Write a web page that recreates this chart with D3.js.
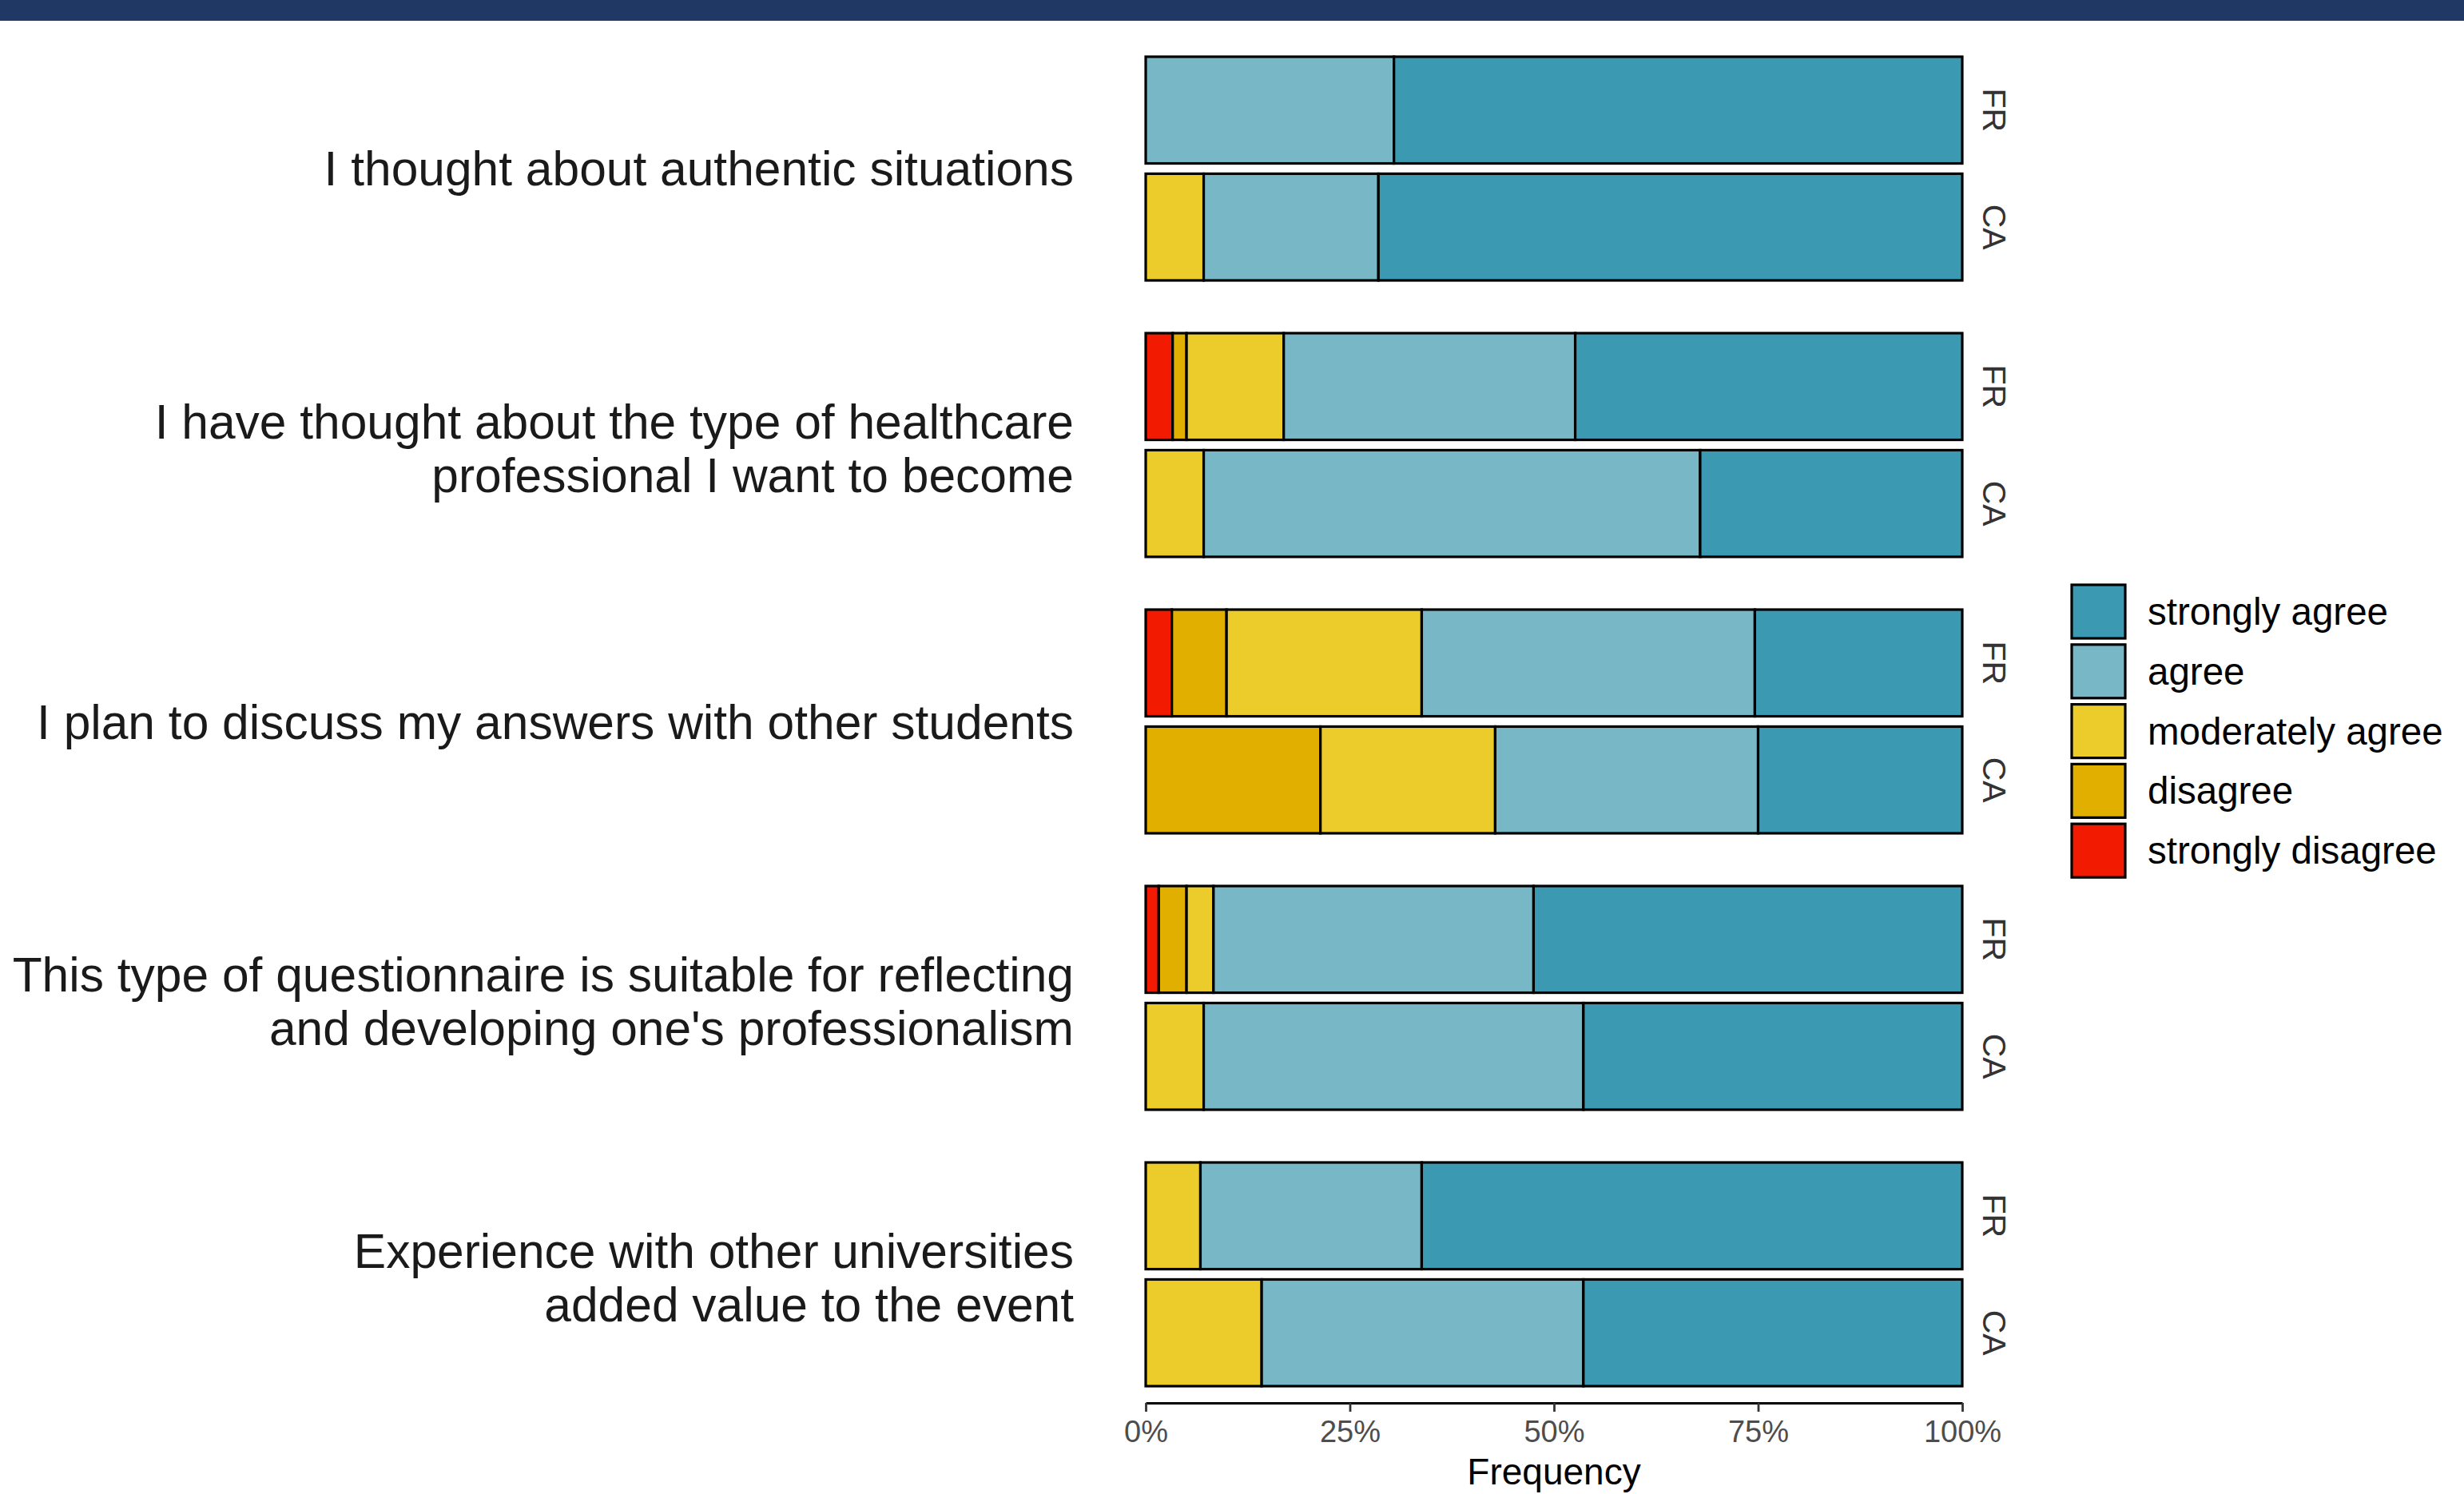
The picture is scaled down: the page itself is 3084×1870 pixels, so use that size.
<!DOCTYPE html>
<html>
<head>
<meta charset="utf-8">
<script src="https://cdn.jsdelivr.net/npm/d3@7"></script>
<style>
  html, body { margin: 0; padding: 0; background: #ffffff; }
  svg { display: block; }
  text { font-family: "Liberation Sans", Arial, Helvetica, sans-serif; }
</style>
</head>
<body>
<svg id="chart" width="3084" height="1870"></svg>
<script>
// ---------------- data ----------------
const categories = [
  "I thought about authentic situations",
  "I have thought about the type of healthcare\nprofessional I want to become",
  "I plan to discuss my answers with other students",
  "This type of questionnaire is suitable for reflecting\nand developing one's professionalism",
  "Experience with other universities\nadded value to the event"
];
const countries = ["FR", "CA"];
const levels = ["strongly disagree", "disagree", "moderately agree", "agree", "strongly agree"];
const levelColors = ["#F21A00", "#E1AF00", "#EBCC2A", "#78B7C5", "#3B9AB2"];
const legendOrder = ["strongly agree", "agree", "moderately agree", "disagree", "strongly disagree"];
const tickValues = [0, 0.25, 0.5, 0.75, 1];
const xTitle = "Frequency";

// percentages, row order: Q1 FR, Q1 CA, Q2 FR, Q2 CA, ... Q5 FR, Q5 CA
const stronglyDisagree = [0, 0,    3.3, 0,    3.2, 0,    1.6, 0,    0, 0];
const disagree         = [0, 0,    1.7, 0,    6.7, 21.4, 3.4, 0,    0, 0];
const moderatelyAgree  = [0, 7.1,  11.9, 7.1, 23.9, 21.4, 3.3, 7.1, 6.7, 14.2];
const agree            = [30.4, 21.4, 35.7, 60.8, 40.8, 32.2, 39.2, 46.5, 27.1, 39.4];
const stronglyAgree    = [69.6, 71.5, 47.4, 32.1, 25.4, 25.0, 52.5, 46.4, 66.2, 46.4];

// ---------------- build table ----------------
const levelSeries = [stronglyDisagree, disagree, moderatelyAgree, agree, stronglyAgree];
const rows = [];
categories.forEach((q, qi) => {
  countries.forEach((c, ci) => {
    const idx = qi * countries.length + ci;
    const r = { question: q, country: c };
    levels.forEach((l, li) => { r[l] = levelSeries[li][idx] / 100; });
    rows.push(r);
  });
});
const stacked = d3.stack().keys(levels)(rows);

// ---------------- layout ----------------
const svg = d3.select("#chart");
const W = 3084, H = 1870;
svg.append("rect").attr("x", 0).attr("y", 0).attr("width", W).attr("height", H).attr("fill", "#ffffff");
// top banner
svg.append("rect").attr("x", 0).attr("y", 0).attr("width", W).attr("height", 26).attr("fill", "#1F3864");

const x = d3.scaleLinear().domain([0, 1]).range([1434, 2456]);
const yOuter = d3.scaleBand().domain(categories).range([71, 1735]).paddingInner(0.1908).paddingOuter(0);
const yInner = d3.scaleBand().domain(countries).range([0, yOuter.bandwidth()]).paddingInner(0.088);
const color = d3.scaleOrdinal().domain(levels).range(levelColors);

const barStroke = 3.2;

// bars
const layer = svg.append("g");
stacked.forEach(series => {
  layer.selectAll(null)
    .data(series.filter(d => d[1] - d[0] > 0))
    .enter()
    .append("rect")
    .attr("x", d => x(d[0]))
    .attr("width", d => x(d[1]) - x(d[0]))
    .attr("y", d => yOuter(d.data.question) + yInner(d.data.country))
    .attr("height", yInner.bandwidth())
    .attr("fill", color(series.key))
    .attr("stroke", "#000000")
    .attr("stroke-width", barStroke);
});

// strip labels FR / CA
const strips = svg.append("g");
rows.forEach(r => {
  const cy = yOuter(r.question) + yInner(r.country) + yInner.bandwidth() / 2;
  strips.append("text")
    .attr("transform", `translate(2496,${cy}) rotate(90)`)
    .attr("text-anchor", "middle")
    .attr("dominant-baseline", "central")
    .attr("font-size", 41)
    .attr("fill", "#333333")
    .text(r.country);
});

// question labels (y axis)
const qFont = 60.5, qLine = 67, qCap = 43;
const qg = svg.append("g");
categories.forEach(q => {
  const lines = q.split("\n");
  const cy = yOuter(q) + yOuter.bandwidth() / 2;
  const n = lines.length;
  const firstBaseline = cy - (n - 1) * qLine / 2 + qCap / 2 + (n > 1 ? 4 : 0);
  const t = qg.append("text")
    .attr("text-anchor", "end")
    .attr("font-size", qFont)
    .attr("fill", "#1a1a1a");
  lines.forEach((ln, i) => {
    t.append("tspan").attr("x", 1344).attr("y", firstBaseline + i * qLine).text(ln);
  });
});

// x axis
const axisG = svg.append("g")
  .attr("transform", "translate(0,1756)")
  .call(d3.axisBottom(x).tickValues(tickValues).tickFormat(d3.format(".0%")).tickSize(11).tickSizeOuter(0).tickPadding(11));
axisG.select(".domain").attr("stroke", "#000000").attr("stroke-width", 2.8);
axisG.selectAll(".tick line").attr("stroke", "#333333").attr("stroke-width", 2.8);
axisG.selectAll(".tick text")
  .attr("font-size", 38)
  .attr("fill", "#4d4d4d")
  .style("font-family", "'Liberation Sans', Arial, sans-serif");

svg.append("text")
  .attr("x", (x(0) + x(1)) / 2)
  .attr("y", 1858)
  .attr("text-anchor", "middle")
  .attr("font-size", 46)
  .attr("fill", "#000000")
  .text(xTitle);

// legend
const legend = svg.append("g");
const keySize = 67, keyPitch = 74.8, keyX = 2593, firstCenter = 765.5;
legendOrder.forEach((l, i) => {
  const cy = firstCenter + i * keyPitch;
  legend.append("rect")
    .attr("x", keyX).attr("y", cy - keySize / 2)
    .attr("width", keySize).attr("height", keySize)
    .attr("fill", color(l))
    .attr("stroke", "#000000")
    .attr("stroke-width", 3.2);
  legend.append("text")
    .attr("x", 2688).attr("y", cy + 16.5)
    .attr("font-size", 47.5)
    .attr("fill", "#000000")
    .text(l);
});
</script>
</body>
</html>
